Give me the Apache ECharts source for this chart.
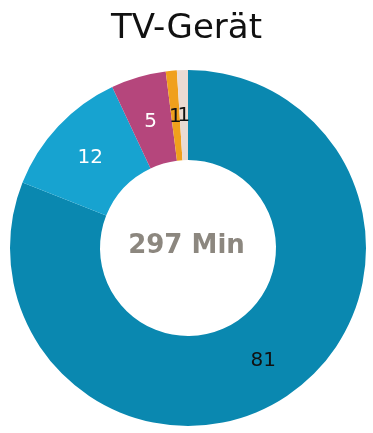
<!DOCTYPE html>
<html>
<head>
<meta charset="utf-8">
<script src="https://cdn.jsdelivr.net/npm/echarts@6/dist/echarts.min.js"></script>
<style>
  html, body { margin: 0; padding: 0; background: #ffffff; }
  #chart { width: 373px; height: 433px; }
</style>
</head>
<body>
<div id="chart"></div>
<script>
// Share of viewing time by device (percent), drawn clockwise from 12 o'clock
const categories = ['A', 'B', 'C', 'D', 'E'];
const values = [81, 12, 5, 1, 1];
const sliceColors = ['#0a88b0', '#17a3d0', '#b5467c', '#f0a01c', '#eadbd3'];
const labelColors = ['#111111', '#ffffff', '#ffffff', '#111111', '#111111'];
const titleText = 'TV-Gerät';
const centerText = '297 Min';

const CX = 188, CY = 248;
const R_INNER = 88, R_OUTER = 178;
const LABEL_R = 134;

const chart = echarts.init(document.getElementById('chart'), null, { renderer: 'canvas' });

const total = values.reduce((a, b) => a + b, 0);

const pieData = categories.map((name, i) => ({
  name: name,
  value: values[i],
  itemStyle: { color: sliceColors[i] },
  label: { color: labelColors[i] }
}));

chart.setOption({
  animation: false,
  title: {
    text: titleText,
    left: 'center',
    top: 7,
    textStyle: {
      fontFamily: 'DejaVu Sans',
      fontWeight: 'normal',
      fontSize: 34,
      color: '#111111'
    }
  },
  graphic: [{
    type: 'text',
    left: 'center',
    top: 233,
    style: {
      text: centerText,
      fontFamily: 'DejaVu Sans',
      fontWeight: 'bold',
      fontSize: 26,
      fill: '#8c877f'
    }
  }],
  series: [{
    type: 'pie',
    center: [CX, CY],
    radius: [R_INNER, R_OUTER],
    startAngle: 90,
    clockwise: true,
    avoidLabelOverlap: false,
    data: pieData,
    label: {
      show: true,
      position: 'inside',
      formatter: '{c}',
      fontFamily: 'DejaVu Sans',
      fontSize: 20
    },
    // centre each value label at the middle angle of its slice
    labelLayout: function (params) {
      const idx = params.dataIndex;
      let before = 0;
      for (let i = 0; i < idx; i++) before += values[i];
      const mid = (before + values[idx] / 2) / total * Math.PI * 2;
      return {
        x: CX + LABEL_R * Math.sin(mid),
        y: CY - LABEL_R * Math.cos(mid) + 2,
        align: 'center',
        verticalAlign: 'middle',
        hideOverlap: false
      };
    },
    labelLine: { show: false },
    emphasis: { disabled: true }
  }]
});
</script>
</body>
</html>
